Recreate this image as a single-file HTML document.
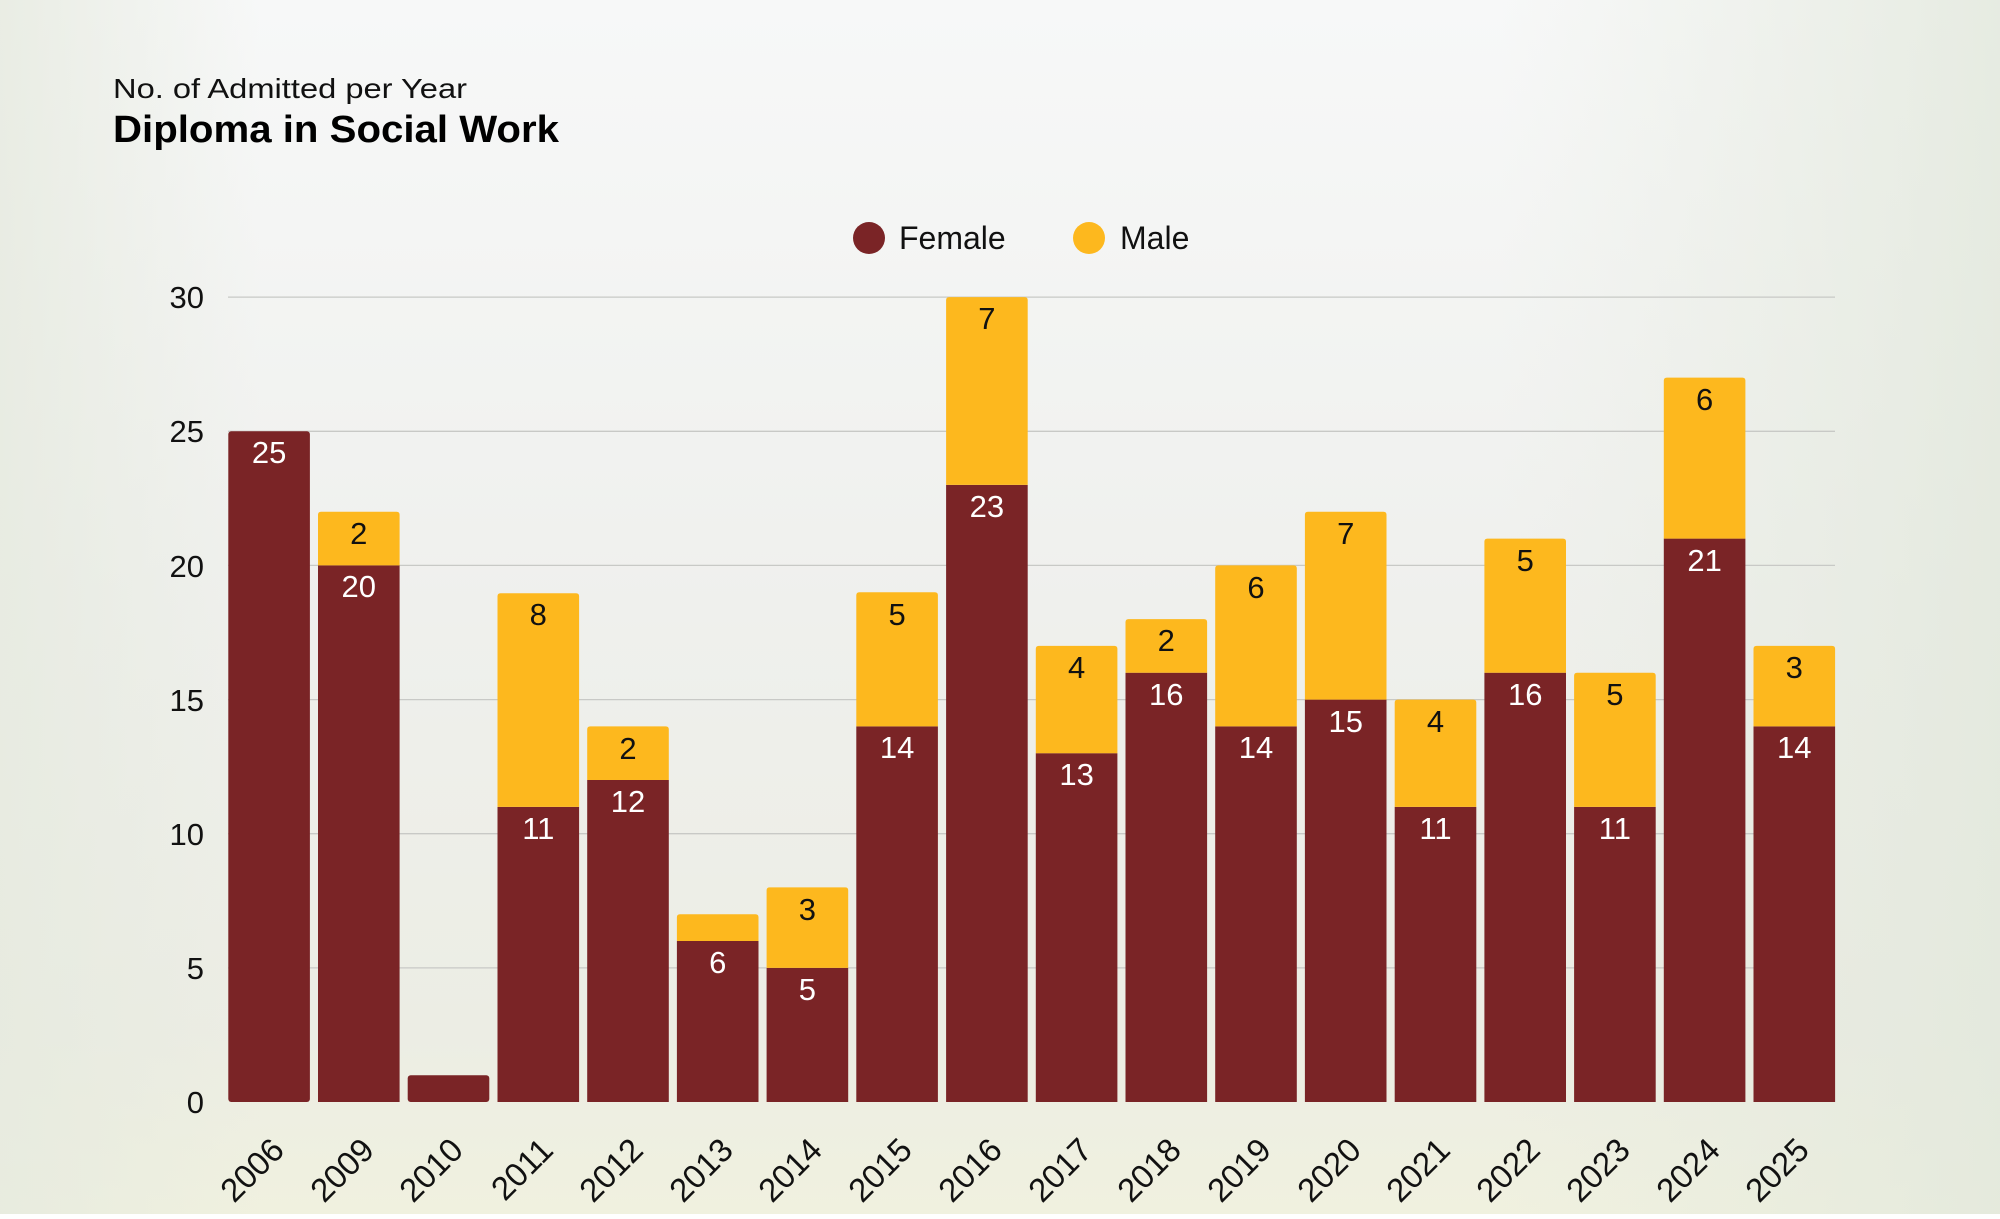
<!DOCTYPE html>
<html><head><meta charset="utf-8"><style>
html,body{margin:0;padding:0;}
body{width:2000px;height:1214px;overflow:hidden;font-family:"Liberation Sans",sans-serif;}
</style></head><body>
<svg width="2000" height="1214" viewBox="0 0 2000 1214" xmlns="http://www.w3.org/2000/svg" font-family="Liberation Sans, sans-serif">
<defs>
<linearGradient id="bg" x1="0" y1="0" x2="0" y2="1">
<stop offset="0" stop-color="#f7f8f8"/><stop offset="0.5" stop-color="#eff0ed"/><stop offset="0.85" stop-color="#ecede4"/><stop offset="1" stop-color="#f0f1df"/>
</linearGradient>
<linearGradient id="rg" x1="0" y1="0" x2="1" y2="0">
<stop offset="0" stop-color="#e6eadf" stop-opacity="0"/><stop offset="1" stop-color="#e2e8dc" stop-opacity="0.8"/>
</linearGradient>
<linearGradient id="lg" x1="0" y1="0" x2="1" y2="0">
<stop offset="0" stop-color="#e6eadf" stop-opacity="0.8"/><stop offset="1" stop-color="#e6eadf" stop-opacity="0"/>
</linearGradient>
</defs>
<rect width="2000" height="1214" fill="url(#bg)"/>
<rect x="1500" y="0" width="500" height="1214" fill="url(#rg)"/>
<rect x="0" y="0" width="260" height="1214" fill="url(#lg)"/>

<text x="113" y="98" font-size="28" fill="#111" textLength="354" lengthAdjust="spacingAndGlyphs">No. of Admitted per Year</text>
<text x="113" y="142" font-size="38" font-weight="bold" fill="#000" textLength="446" lengthAdjust="spacingAndGlyphs">Diploma in Social Work</text>

<circle cx="869" cy="238" r="16" fill="#7a2426"/>
<text x="899" y="249" font-size="32" fill="#111">Female</text>
<circle cx="1089" cy="238" r="16" fill="#fdb81e"/>
<text x="1120" y="249" font-size="32" fill="#111">Male</text>

<g stroke="#c8c9c6" stroke-width="1.3">
<line x1="228" y1="967.9" x2="1835" y2="967.9"/>
<line x1="228" y1="833.7" x2="1835" y2="833.7"/>
<line x1="228" y1="699.6" x2="1835" y2="699.6"/>
<line x1="228" y1="565.4" x2="1835" y2="565.4"/>
<line x1="228" y1="431.3" x2="1835" y2="431.3"/>
<line x1="228" y1="297.1" x2="1835" y2="297.1"/>
</g>
<g font-size="31" fill="#111" text-anchor="end">
<text x="204" y="1113">0</text>
<text x="204" y="979">5</text>
<text x="204" y="845">10</text>
<text x="204" y="711">15</text>
<text x="204" y="577">20</text>
<text x="204" y="442">25</text>
<text x="204" y="308">30</text>
</g>

<g fill="#7a2426">
<rect x="228.3" y="431.3" width="81.6" height="670.7" rx="3"/>
<rect x="318.0" y="565.4" width="81.6" height="536.6"/>
<rect x="407.7" y="1075.2" width="81.6" height="26.8" rx="3"/>
<rect x="497.5" y="806.9" width="81.6" height="295.1"/>
<rect x="587.2" y="780.0" width="81.6" height="322"/>
<rect x="676.9" y="941.0" width="81.6" height="161"/>
<rect x="766.6" y="967.9" width="81.6" height="134.1"/>
<rect x="856.3" y="726.4" width="81.6" height="375.6"/>
<rect x="946.1" y="484.9" width="81.6" height="617.1"/>
<rect x="1035.8" y="753.2" width="81.6" height="348.8"/>
<rect x="1125.5" y="672.7" width="81.6" height="429.3"/>
<rect x="1215.2" y="726.4" width="81.6" height="375.6"/>
<rect x="1304.9" y="699.6" width="81.6" height="402.4"/>
<rect x="1394.7" y="806.9" width="81.6" height="295.1"/>
<rect x="1484.4" y="672.7" width="81.6" height="429.3"/>
<rect x="1574.1" y="806.9" width="81.6" height="295.1"/>
<rect x="1663.8" y="538.6" width="81.6" height="563.4"/>
<rect x="1753.5" y="726.4" width="81.6" height="375.6"/>
</g>
<g fill="#fdb81e">
<path d="M318.0,565.4 V514.7 q0,-3 3,-3 H396.6 q3,0 3,3 V565.4 Z"/>
<path d="M497.5,806.9 V596.2 q0,-3 3,-3 H576.1 q3,0 3,3 V806.9 Z"/>
<path d="M587.2,780.0 V729.4 q0,-3 3,-3 H665.8 q3,0 3,3 V780.0 Z"/>
<path d="M676.9,941.0 V917.2 q0,-3 3,-3 H755.5 q3,0 3,3 V941.0 Z"/>
<path d="M766.6,967.9 V890.4 q0,-3 3,-3 H845.2 q3,0 3,3 V967.9 Z"/>
<path d="M856.3,726.4 V595.2 q0,-3 3,-3 H934.9 q3,0 3,3 V726.4 Z"/>
<path d="M946.1,484.9 V300.1 q0,-3 3,-3 H1024.7 q3,0 3,3 V484.9 Z"/>
<path d="M1035.8,753.2 V648.9 q0,-3 3,-3 H1114.4 q3,0 3,3 V753.2 Z"/>
<path d="M1125.5,672.7 V622.1 q0,-3 3,-3 H1204.1 q3,0 3,3 V672.7 Z"/>
<path d="M1215.2,726.4 V568.4 q0,-3 3,-3 H1293.8 q3,0 3,3 V726.4 Z"/>
<path d="M1304.9,699.6 V514.7 q0,-3 3,-3 H1383.5 q3,0 3,3 V699.6 Z"/>
<path d="M1394.7,806.9 V702.6 q0,-3 3,-3 H1473.3 q3,0 3,3 V806.9 Z"/>
<path d="M1484.4,672.7 V541.6 q0,-3 3,-3 H1563.0 q3,0 3,3 V672.7 Z"/>
<path d="M1574.1,806.9 V675.7 q0,-3 3,-3 H1652.7 q3,0 3,3 V806.9 Z"/>
<path d="M1663.8,538.6 V380.6 q0,-3 3,-3 H1742.4 q3,0 3,3 V538.6 Z"/>
<path d="M1753.5,726.4 V648.9 q0,-3 3,-3 H1832.1 q3,0 3,3 V726.4 Z"/>
</g>

<g font-size="31" text-anchor="middle" fill="#fff">
<text x="269.1" y="463">25</text>
<text x="358.8" y="597">20</text>
<text x="538.3" y="839">11</text>
<text x="628.0" y="812">12</text>
<text x="717.7" y="973">6</text>
<text x="807.4" y="1000">5</text>
<text x="897.1" y="758">14</text>
<text x="986.9" y="517">23</text>
<text x="1076.6" y="785">13</text>
<text x="1166.3" y="705">16</text>
<text x="1256.0" y="758">14</text>
<text x="1345.7" y="732">15</text>
<text x="1435.5" y="839">11</text>
<text x="1525.2" y="705">16</text>
<text x="1614.9" y="839">11</text>
<text x="1704.6" y="571">21</text>
<text x="1794.3" y="758">14</text>
</g>
<g font-size="31" text-anchor="middle" fill="#111">
<text x="358.8" y="544">2</text>
<text x="538.3" y="625">8</text>
<text x="628.0" y="759">2</text>
<text x="807.4" y="920">3</text>
<text x="897.1" y="625">5</text>
<text x="986.9" y="329">7</text>
<text x="1076.6" y="678">4</text>
<text x="1166.3" y="651">2</text>
<text x="1256.0" y="598">6</text>
<text x="1345.7" y="544">7</text>
<text x="1435.5" y="732">4</text>
<text x="1525.2" y="571">5</text>
<text x="1614.9" y="705">5</text>
<text x="1704.6" y="410">6</text>
<text x="1794.3" y="678">3</text>
</g>

<g font-size="33" fill="#111" text-anchor="end">
<text transform="translate(286,1152) rotate(-45)">2006</text>
<text transform="translate(376,1152) rotate(-45)">2009</text>
<text transform="translate(465,1152) rotate(-45)">2010</text>
<text transform="translate(555,1152) rotate(-45)">2011</text>
<text transform="translate(645,1152) rotate(-45)">2012</text>
<text transform="translate(735,1152) rotate(-45)">2013</text>
<text transform="translate(824,1152) rotate(-45)">2014</text>
<text transform="translate(914,1152) rotate(-45)">2015</text>
<text transform="translate(1004,1152) rotate(-45)">2016</text>
<text transform="translate(1094,1152) rotate(-45)">2017</text>
<text transform="translate(1183,1152) rotate(-45)">2018</text>
<text transform="translate(1273,1152) rotate(-45)">2019</text>
<text transform="translate(1363,1152) rotate(-45)">2020</text>
<text transform="translate(1452,1152) rotate(-45)">2021</text>
<text transform="translate(1542,1152) rotate(-45)">2022</text>
<text transform="translate(1632,1152) rotate(-45)">2023</text>
<text transform="translate(1722,1152) rotate(-45)">2024</text>
<text transform="translate(1811,1152) rotate(-45)">2025</text>
</g>
</svg>
</body></html>
